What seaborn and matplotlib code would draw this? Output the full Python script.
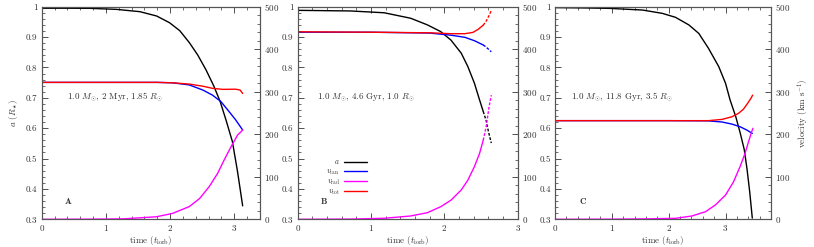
import numpy as np
import pandas as pd
import matplotlib
matplotlib.use("Agg")
import matplotlib.pyplot as plt
from matplotlib.ticker import MultipleLocator, FuncFormatter
from matplotlib.lines import Line2D
import seaborn as sns

# ---------------- data ----------------
# Panel A : 1.0 Msun, 2 Myr, 1.85 Rsun
tA_a = [0, 0.4, 0.75, 1.16, 1.53, 1.79, 1.99, 2.15, 2.30, 2.43, 2.56, 2.68, 2.78, 2.87, 2.97, 3.05, 3.13]
aA = [0.995, 0.995, 0.9946, 0.9913, 0.9836, 0.9694, 0.9474, 0.9211, 0.8816, 0.841, 0.7917,
      0.739, 0.6875, 0.6272, 0.5559, 0.4572, 0.3443]
tA_tan = [0, 1.0, 1.8, 2.04, 2.30, 2.51, 2.66, 2.79, 2.92, 3.02, 3.13]
vtanA = [322, 322, 322, 321, 316, 304, 292, 277, 253, 234, 210]
tA_rad = [0, 0.75, 1.27, 1.79, 2.04, 2.30, 2.46, 2.61, 2.74, 2.84, 2.95, 3.05, 3.13]
vradA = [0, 0.3, 1, 6, 14, 30, 49, 77, 108, 139, 171, 198, 210]
tA_tot = [0, 1.0, 1.8, 2.04, 2.30, 2.51, 2.66, 2.82, 3.02, 3.09, 3.13]
vtotA = [322, 322, 322, 321, 318, 313, 308, 305.6, 306, 304, 296]

# Panel B : 1.0 Msun, 4.6 Gyr, 1.0 Rsun
tB_a = [0, 0.72, 1.18, 1.54, 1.77, 1.95, 2.09, 2.23, 2.32, 2.41, 2.48, 2.53, 2.57, 2.60, 2.64]
aB = [0.988, 0.986, 0.980, 0.962, 0.940, 0.918, 0.890, 0.847, 0.803, 0.748, 0.693, 0.655,
      0.625, 0.590, 0.551]
tB_tan = [0, 1.0, 1.8, 2.09, 2.28, 2.41, 2.53, 2.57, 2.64]
vtanB = [440, 440, 438, 433, 428, 420, 410, 405, 394]
tB_rad = [0, 0.72, 1.18, 1.54, 1.77, 1.95, 2.09, 2.23, 2.32, 2.41, 2.48, 2.53, 2.57, 2.61, 2.64]
vradB = [0, 0.5, 2.4, 7.8, 15.6, 29.6, 45, 69, 92, 124, 155, 186, 218, 265, 292]
tB_tot = [0, 1.0, 1.8, 2.09, 2.28, 2.39, 2.46, 2.53, 2.57, 2.62, 2.64]
vtotB = [441, 440, 438.6, 436.5, 436.5, 439.6, 446.7, 456.5, 466, 482.8, 492]

# Panel C : 1.0 Msun, 11.8 Gyr, 3.5 Rsun
tC_a = [0, 0.5, 0.96, 1.54, 1.89, 2.12, 2.355, 2.53, 2.70, 2.88, 3.00, 3.08, 3.18, 3.26,
        3.33, 3.38, 3.425, 3.471]
aC = [0.997, 0.996, 0.9945, 0.989, 0.978, 0.965, 0.940, 0.912, 0.863, 0.803, 0.748, 0.693,
      0.638, 0.583, 0.529, 0.463, 0.391, 0.304]
tC_tan = [0, 1.0, 2.0, 2.70, 2.94, 3.11, 3.256, 3.373, 3.471]
vtanC = [232, 232, 232, 231.5, 228.8, 224, 217.7, 210, 202]
tC_rad = [0, 1.0, 1.6, 2.12, 2.41, 2.65, 2.82, 3.00, 3.14, 3.256, 3.343, 3.413, 3.46, 3.483]
vradC = [0, 0.3, 1, 2.3, 7.8, 18, 33.6, 57, 88, 124, 155, 186, 206, 214]
tC_tot = [0, 1.0, 2.0, 2.70, 2.94, 3.11, 3.227, 3.315, 3.39, 3.447, 3.477]
vtotC = [232, 232, 232, 232, 235, 241, 249, 259, 273, 284.5, 292]

panel_letters = [r"$\mathbf{A}$", r"$\mathbf{B}$", r"$\mathbf{C}$"]
panel_notes = [r"1.0 $M_{\odot}$, 2 Myr, 1.85 $R_{\odot}$",
               r"1.0 $M_{\odot}$, 4.6 Gyr, 1.0 $R_{\odot}$",
               r"1.0 $M_{\odot}$, 11.8 Gyr, 3.5 $R_{\odot}$"]
xmax_list = [3.4, 3.0, 3.8]
series_labels = [r"$a$", r"$v_{\rm tan}$", r"$v_{\rm rad}$", r"$v_{\rm tot}$"]
x_ticks = [0, 1, 2, 3]
left_ticks = [0.3, 0.4, 0.5, 0.6, 0.7, 0.8, 0.9, 1.0]
right_ticks = [0, 100, 200, 300, 400, 500]

# ---------------- style ----------------
sns.set_theme(style="ticks")
TXT = "#333333"
plt.rcParams.update({
    "font.family": ["cmr10", "DejaVu Serif"],
    "mathtext.fontset": "cm",
    "axes.unicode_minus": False,
    "axes.formatter.use_mathtext": True,
    "font.size": 6.5,
    "text.color": TXT,
    "axes.labelcolor": TXT,
    "xtick.color": TXT,
    "ytick.color": TXT,
    "axes.edgecolor": "#555555",
    "axes.linewidth": 0.8,
})

COL = {"a": "black", "tan": "#0000ff", "rad": "#ff00ff", "tot": "#ff0000"}
LW = 1.0

fig = plt.figure(figsize=(8.14, 2.47), dpi=100)
lefts = [41.7 / 814, 297.7 / 814, 555 / 814]
widths = [218.3 / 814, 220.0 / 814, 216.0 / 814]
bottom = 1 - 219.3 / 247
height = (219.3 - 6.7) / 247

panels = [
    (tA_a, aA, tA_tan, vtanA, tA_rad, vradA, tA_tot, vtotA, None),
    (tB_a, aB, tB_tan, vtanB, tB_rad, vradB, tB_tot, vtotB, 2.565),
    (tC_a, aC, tC_tan, vtanC, tC_rad, vradC, tC_tot, vtotC, None),
]


def draw(ax, t, v, color, cut):
    df = pd.DataFrame({"t": t, "v": v})
    if cut is None:
        sns.lineplot(data=df, x="t", y="v", ax=ax, color=color, lw=LW,
                     estimator=None, sort=False)
    else:
        solid = df[df["t"] <= cut]
        tail = df[df["t"] >= solid["t"].max()]
        sns.lineplot(data=solid, x="t", y="v", ax=ax, color=color, lw=LW,
                     estimator=None, sort=False)
        sns.lineplot(data=tail, x="t", y="v", ax=ax, color=color, lw=LW,
                     estimator=None, sort=False, linestyle=(0, (2, 1.2)))


for i, (ta, a, tt, vt, tr, vr, to, vo, cut) in enumerate(panels):
    ax = fig.add_axes([lefts[i], bottom, widths[i], height])
    ax2 = ax.twinx()
    draw(ax, ta, a, COL["a"], cut)
    draw(ax2, tt, vt, COL["tan"], cut)
    draw(ax2, tr, vr, COL["rad"], cut)
    draw(ax2, to, vo, COL["tot"], cut)

    ax.set_xlim(0, xmax_list[i])
    ax.set_ylim(0.3, 1.0)
    ax2.set_ylim(0, 500)
    ax.set_xticks(x_ticks)
    ax.set_yticks(left_ticks)
    ax2.set_yticks(right_ticks)
    ax.xaxis.set_minor_locator(MultipleLocator(0.2))
    ax.yaxis.set_minor_locator(MultipleLocator(0.02))
    ax2.yaxis.set_minor_locator(MultipleLocator(20))
    ax.yaxis.set_major_formatter(FuncFormatter(lambda v, p: f"{v:g}"))
    ax.tick_params(axis="x", which="both", direction="in", top=True, bottom=True,
                   pad=3, labelsize=6.5)
    ax.tick_params(axis="y", which="both", direction="in", left=True, right=False,
                   pad=3, labelsize=6.5)
    ax2.tick_params(axis="y", which="both", direction="in", right=True,
                    pad=3, labelsize=6.5)
    for a_ in (ax, ax2):
        a_.tick_params(which="major", length=4, width=0.6)
        a_.tick_params(which="minor", length=2, width=0.5)
    ax.set_xlabel(r"time ($t_{\rm iorb}$)", fontsize=6.5, labelpad=0.5)
    ax.set_ylabel("")
    ax2.set_ylabel("")
    if i == 0:
        ax.set_ylabel(r"$a$ ($R_{\star}$)", fontsize=6.5, labelpad=4)
    if i == 2:
        ax2.set_ylabel(r"velocity (km s$^{-1}$)", fontsize=6.5, labelpad=4)

    note_x = [0.39, 0.26, 0.29][i]
    ax.text(note_x, 0.70, panel_notes[i], fontsize=6.5, va="center", ha="left")
    lx = [0.34, 0.30, 0.42][i]
    ax.text(lx, 0.36, panel_letters[i], fontsize=6.5, va="center", ha="left")

    if i == 1:
        handles = [Line2D([], [], color=COL[k], lw=LW) for k in ["a", "tan", "rad", "tot"]]
        ax.legend(handles, series_labels, loc="upper left",
                  bbox_to_anchor=(0.11, 0.31), frameon=False, markerfirst=False,
                  fontsize=5.5, handlelength=3.0, labelspacing=0.05,
                  handletextpad=0.6, borderpad=0.1)

fig.savefig("out.png", dpi=100)
